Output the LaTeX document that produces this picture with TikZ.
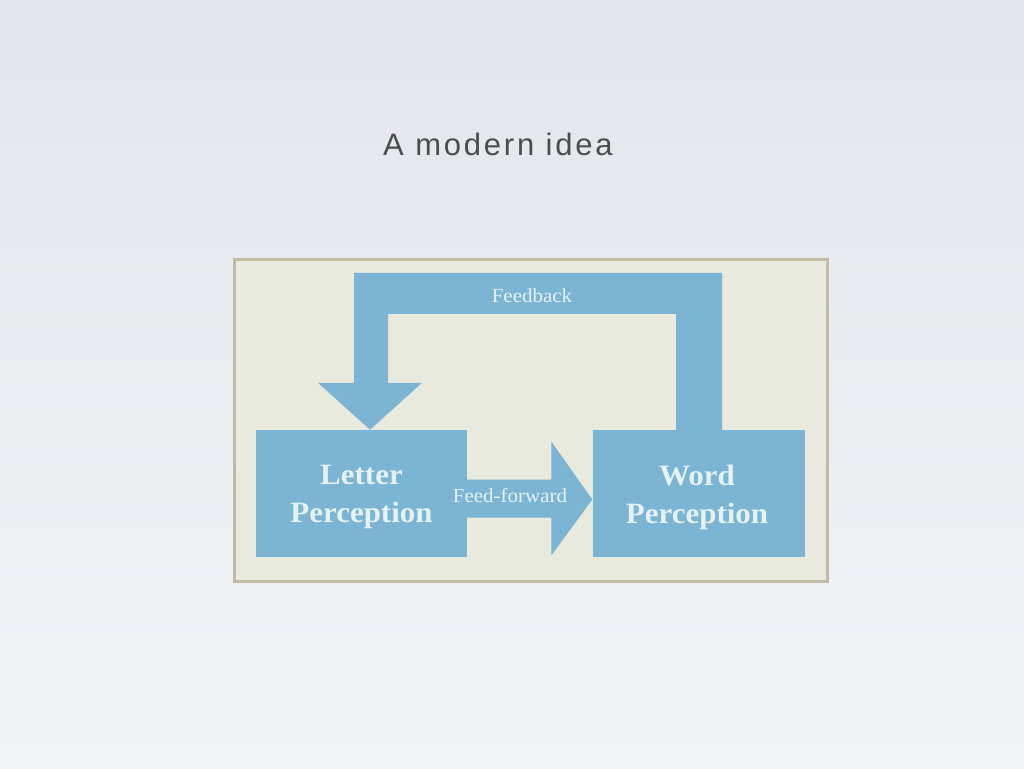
\documentclass[tikz,border=0pt]{standalone}
\usepackage{fontspec}
\setmainfont{Liberation Serif}
\newfontfamily\titlefont[LetterSpace=9]{Liberation Sans}
\newfontfamily\boxfont[FakeStretch=1.05]{Liberation Serif}
\usetikzlibrary{calc}
\definecolor{bgtop}{RGB}{226,229,234}
\definecolor{bgbot}{RGB}{242,243,247}
\definecolor{paper}{RGB}{232,234,221}
\definecolor{paperedge}{RGB}{196,186,164}
\definecolor{flowblue}{RGB}{124,180,212}
\definecolor{labelwhite}{RGB}{228,242,244}
\definecolor{titlegray}{RGB}{76,76,78}
\tikzset{
  procbox/.style={fill=flowblue, draw=none, inner sep=0pt, minimum width=211pt, minimum height=127pt,
    align=center, text=labelwhite, font=\boxfont\fontsize{29.5}{38}\selectfont\bfseries},
  flowlabel/.style={text=labelwhite, inner sep=0pt, font=\boxfont\fontsize{20}{22}\selectfont},
  flowfill/.style={fill=flowblue, draw=none}
}
\begin{document}
\begin{tikzpicture}[x=1pt,y=-1pt]
\useasboundingbox (0,0) rectangle (1024,768);
\shade[top color=bgtop, bottom color=bgbot] (0,0) rectangle (1024,768);
% title
\node[text=titlegray, font=\titlefont\fontsize{31}{36}\selectfont, inner sep=0pt, anchor=base] (title) at (498,155) {A modern idea};
% paper frame
\node[fill=paper, draw=paperedge, line width=3pt, minimum width=593pt, minimum height=322pt, inner sep=0pt] (frame) at (530.5,420) {};
% boxes
\node[procbox] (letter) at (361,493.5) {};
\node[procbox, minimum width=212pt] (word) at (698.5,493.5) {};
\node[procbox, fill=none, minimum width=0pt, minimum height=0pt] (lettertext) at (361.5,497) {Letter\\Perception};
\node[procbox, fill=none, minimum width=0pt, minimum height=0pt] (wordtext) at (697,497) {Word\\Perception};
% feed-forward arrow
\fill[flowfill] ($(letter.east)+(-1,-14)$) -- ($(word.west)+(-41,-14)$) -- ($(word.west)+(-41,-52)$)
  -- ($(word.west)+(0,6)$) -- ($(word.west)+(-41,62)$) -- ($(word.west)+(-41,24)$)
  -- ($(letter.east)+(-1,24)$) -- cycle;
\node[flowlabel] (fflabel) at (510,496) {Feed-forward};
% feedback arrow
\coordinate (fbtopR) at ($(word.north)+(23.5,-157)$);
\fill[flowfill] ($(word.north)+(23.5,1)$) -- (fbtopR) -- ($(letter.north)+(-7,-157)$)
  -- ($(letter.north)+(-7,-47)$) -- ($(letter.north)+(-43,-47)$) -- ($(letter.north)+(9,0)$)
  -- ($(letter.north)+(61,-47)$) -- ($(letter.north)+(27,-47)$) -- ($(letter.north)+(27,-116)$)
  -- ($(word.north)+(-22.5,-116)$) -- ($(word.north)+(-22.5,1)$) -- cycle;
\node[flowlabel] (fblabel) at (532,296) {Feedback};
\end{tikzpicture}
\end{document}
